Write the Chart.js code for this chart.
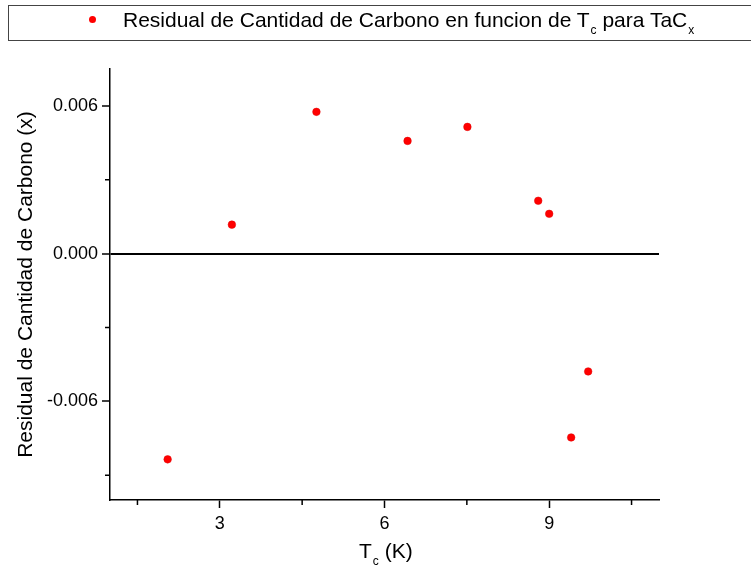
<!DOCTYPE html>
<html>
<head>
<meta charset="utf-8">
<script src="https://cdn.jsdelivr.net/npm/chart.js@4/dist/chart.umd.min.js"></script>
<style>
body { margin: 0; background: #fff; font-family: Arial, "Liberation Sans", sans-serif; overflow: hidden; }
#wrap { position: relative; width: 751px; height: 575px; overflow: hidden; }
#chart { position: absolute; left: 0; top: 0; }
#legend { position: absolute; left: 8px; top: 5px; width: 760px; height: 34px; border: 1px solid #444; }
#legend .dot { position: absolute; left: 80px; top: 10px; width: 7px; height: 7px; border-radius: 50%; background: #f00; }
#legend .txt { position: absolute; left: 114px; top: 2px; font-size: 21px; white-space: nowrap; color: #000; }
#xtitle { position: absolute; left: 359px; top: 539px; font-size: 21px; white-space: nowrap; color: #000; }
sub { font-size: 12px; vertical-align: -7px; margin-left: 1px; }
</style>
</head>
<body>
<div id="wrap">
  <canvas id="chart" width="751" height="575"></canvas>
  <div id="legend"><span class="dot"></span><span class="txt">Residual de Cantidad de Carbono en funcion de T<sub>c</sub> para TaC<sub>x</sub></span></div>
  <div id="xtitle">T<sub>c</sub> (K)</div>
</div>
<script>
// datos
const tcValues = [2.05, 3.22, 4.76, 6.42, 7.51, 8.80, 9.00, 9.40, 9.71];
const residuals = [-0.00835, 0.00118, 0.00576, 0.00458, 0.00515, 0.00215, 0.00162, -0.00746, -0.00478];
const xMajorTicks = [3, 6, 9];
const xMinorTicks = [1.5, 4.5, 7.5, 10.5];
const yMajorTicks = [-0.006, 0, 0.006];
const yMinorTicks = [-0.009, -0.003, 0.003];

// ticks menores (mas cortos)
const minorTicks = {
    id: 'minorTicks',
    afterDraw(chart) {
        const { ctx, scales: { x, y } } = chart;
        ctx.save();
        ctx.strokeStyle = '#000';
        ctx.lineWidth = 1.5;
        ctx.beginPath();
        xMinorTicks.forEach(v => {
            const px = x.getPixelForValue(v);
            ctx.moveTo(px, y.bottom);
            ctx.lineTo(px, y.bottom + 5);
        });
        yMinorTicks.forEach(v => {
            const py = y.getPixelForValue(v);
            ctx.moveTo(x.left, py);
            ctx.lineTo(x.left - 5, py);
        });
        ctx.stroke();
        ctx.restore();
    }
};

const ctx = document.getElementById('chart').getContext('2d');
const chart = new Chart(ctx, {
    type: 'scatter',
    data: {
        datasets: [{
            label: 'Residual de Cantidad de Carbono en funcion de Tc para TaCx',
            data: tcValues.map((t, i) => ({ x: t, y: residuals[i] })),
            backgroundColor: '#ff0000',
            borderColor: '#e00000',
            borderWidth: 0.5,
            pointRadius: 3.8
        }]
    },
    options: {
        responsive: false,
        animation: false,
        layout: { padding: { top: 69, right: 92, left: 0, bottom: 0 } },
        plugins: {
            legend: { display: false },
            tooltip: { enabled: false }
        },
        scales: {
            x: {
                type: 'linear',
                min: 1,
                max: 11,
                afterBuildTicks: s => { s.ticks = xMajorTicks.map(v => ({ value: v })); },
                afterFit: s => { s.height = 75; },
                border: { color: '#000', width: 1.5 },
                grid: { drawOnChartArea: false, tickLength: 8, tickColor: '#000', tickWidth: 1.5 },
                ticks: { color: '#000', font: { family: 'Arial, "Liberation Sans"', size: 18 }, padding: 5, maxRotation: 0 }
            },
            y: {
                min: -0.01,
                max: 0.0075,
                afterBuildTicks: s => { s.ticks = yMajorTicks.map(v => ({ value: v })); },
                afterFit: s => { s.width = 110; },
                border: { color: '#000', width: 1.5 },
                grid: {
                    color: c => (c.tick && c.tick.value === 0) ? '#000' : 'rgba(0,0,0,0)',
                    lineWidth: 2,
                    tickLength: 8,
                    tickColor: '#000',
                    tickWidth: 1.5
                },
                ticks: {
                    color: '#000',
                    font: { family: 'Arial, "Liberation Sans"', size: 18 },
                    padding: 4,
                    callback: v => v.toFixed(3)
                },
                title: {
                    display: true,
                    text: 'Residual de Cantidad de Carbono (x)',
                    color: '#000',
                    font: { family: 'Arial, "Liberation Sans"', size: 21 },
                    padding: { top: 14, bottom: 0 }
                }
            }
        }
    },
    plugins: [minorTicks]
});
</script>
</body>
</html>
